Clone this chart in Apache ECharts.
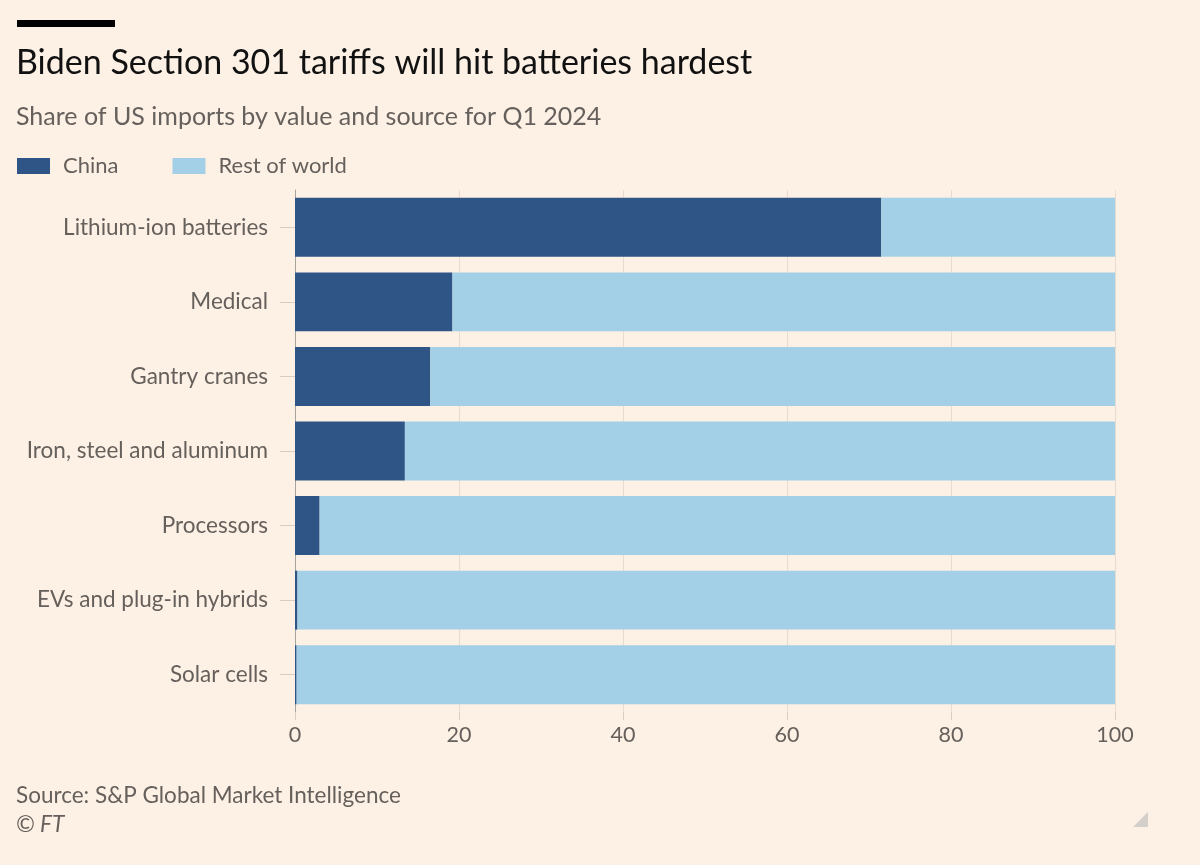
<!DOCTYPE html>
<html><head><meta charset="utf-8">
<script src="https://cdn.jsdelivr.net/npm/echarts@6/dist/echarts.min.js"></script>
<style>html,body{margin:0;padding:0;background:#fdf1e5;}#c{width:1200px;height:865px;}</style>
</head><body><div id="c"></div>
<script>
var categories = ["Lithium-ion batteries","Medical","Gantry cranes","Iron, steel and aluminum","Processors","EVs and plug-in hybrids","Solar cells"];
var chinaShare = [71.5, 19.2, 16.5, 13.4, 3.0, 0.3, 0.2];
var restShare = [28.5, 80.8, 83.5, 86.6, 97.0, 99.7, 99.8];
var xTicks = [0, 20, 40, 60, 80, 100];

var font = "Lato, 'Open Sans', sans-serif";
var chart = echarts.init(document.getElementById('c'));
chart.setOption({
  backgroundColor: '#fdf1e5',
  animation: false,
  title: [
    {text: 'Biden Section 301 tariffs will hit batteries hardest', left: 16, top: 46, padding: 0,
     textStyle: {fontFamily: font, fontSize: 34, fontWeight: 'normal', color: '#111'}},
    {text: 'Share of US imports by value and source for Q1 2024', left: 16, top: 104, padding: 0,
     textStyle: {fontFamily: font, fontSize: 25, fontWeight: 'normal', color: '#66605c'}},
    {text: 'Source: S&P Global Market Intelligence', left: 16, top: 784, padding: 0,
     textStyle: {fontFamily: font, fontSize: 22.5, fontWeight: 'normal', color: '#66605c'}},
    {text: '© FT', left: 16, top: 813, padding: 0,
     textStyle: {fontFamily: font, fontSize: 22.5, fontWeight: 'normal', fontStyle: 'italic', color: '#66605c'}}
  ],
  legend: {
    left: 17, top: 155, padding: 0, itemWidth: 33, itemHeight: 16, itemGap: 54,
    icon: 'rect',
    textStyle: {fontFamily: font, fontSize: 22, color: '#66605c', padding: [0, 0, 0, 8]},
    data: ['China', 'Rest of world']
  },
  graphic: [
    {type: 'rect', left: 17, top: 20, shape: {width: 98, height: 7}, style: {fill: '#000'}},
    {type: 'polygon', shape: {points: [[1148, 812], [1148, 827], [1133, 827]]}, style: {fill: '#d3cfcb'}}
  ],
  grid: {left: 295, right: 85, top: 190, bottom: 153},
  xAxis: {
    type: 'value', min: 0, max: 100, interval: 20,
    axisLine: {show: false},
    axisTick: {show: true, length: 8, lineStyle: {color: '#d9ccc0'}},
    axisLabel: {fontFamily: font, fontSize: 21.5, color: '#66605c', margin: 12,
      formatter: function (v) { return xTicks.indexOf(v) >= 0 ? String(v) : ''; }},
    splitLine: {show: true, lineStyle: {color: '#e8dbcf', width: 1}}
  },
  yAxis: {
    type: 'category', inverse: true, data: categories,
    axisLine: {show: true, lineStyle: {color: '#a9a39e', width: 1}},
    axisTick: {show: true, alignWithLabel: true, length: 15, lineStyle: {color: '#d9ccc0'}},
    axisLabel: {fontFamily: font, fontSize: 22.5, color: '#66605c', margin: 27, padding: [6, 0, 0, 0]}
  },
  series: [
    {name: 'China', type: 'bar', stack: 'total', data: chinaShare, barCategoryGap: '21%',
     itemStyle: {color: '#2f5486'}},
    {name: 'Rest of world', type: 'bar', stack: 'total', data: restShare,
     itemStyle: {color: '#a3d0e6'}}
  ]
});
</script></body></html>
